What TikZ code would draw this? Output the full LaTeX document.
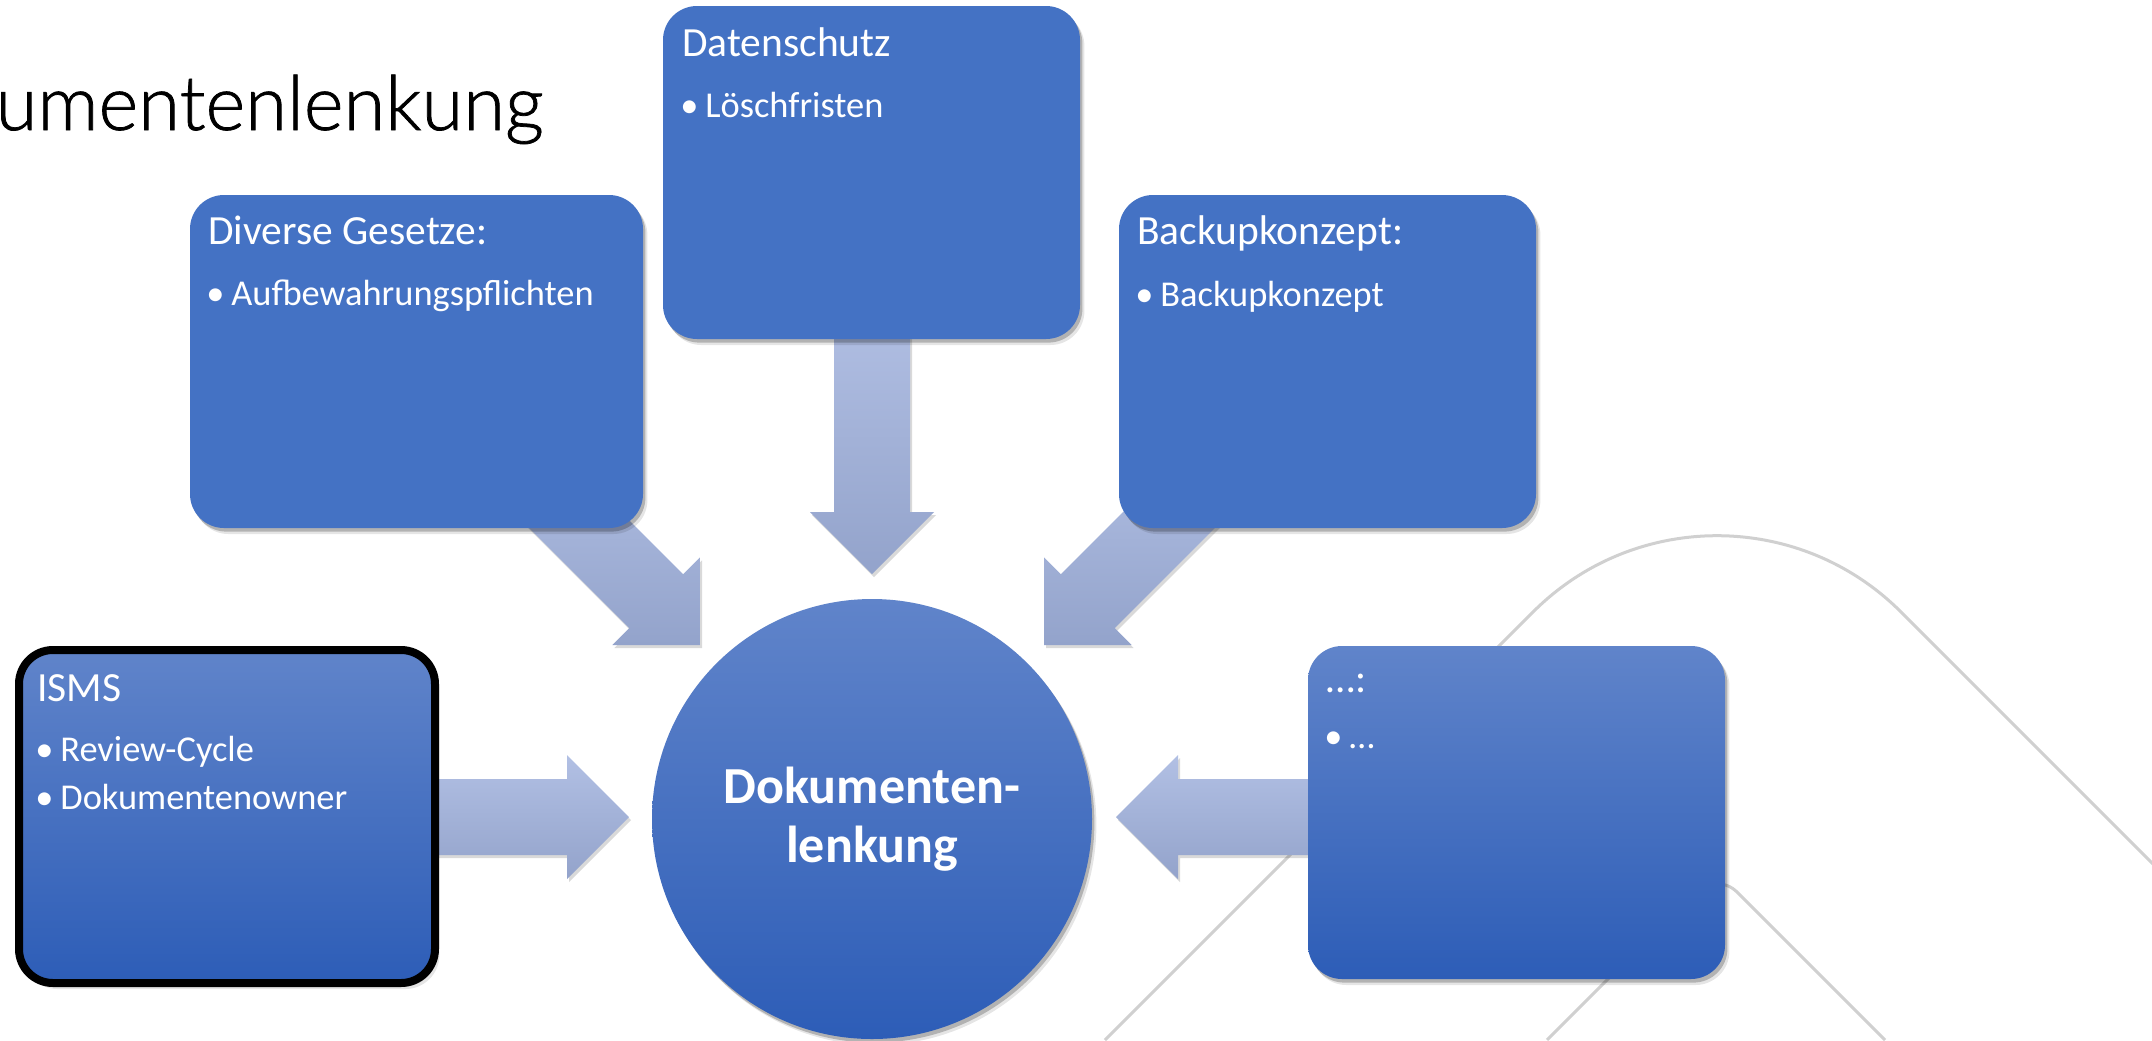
\documentclass[tikz,border=0pt]{standalone}
\usepackage{fontspec}
\setmainfont{Carlito}
\newfontfamily\titlefont{Lato Light}[FakeBold=1]
\usetikzlibrary{shadows}
\definecolor{boxblue}{HTML}{4472C4}
\definecolor{gradtop}{HTML}{6084CA}
\definecolor{gradbot}{HTML}{2D5DB7}
\definecolor{arrtop}{HTML}{B2C0E4}
\definecolor{arrbot}{HTML}{93A3CB}
\definecolor{decogray}{HTML}{D0D0D0}
\newcommand{\bulletmark}{\makebox[12.5pt][l]{•}}
\tikzset{
  softshadow/.style={drop shadow={shadow xshift=1.2pt,shadow yshift=-1.8pt,opacity=0.22,fill=black},
                     drop shadow={shadow xshift=2.2pt,shadow yshift=-3pt,opacity=0.10,fill=black}},
  flatbox/.style={rectangle, rounded corners=17pt, fill=boxblue, softshadow, inner sep=0pt},
  gradbox/.style={rectangle, rounded corners=17pt, top color=gradtop, bottom color=gradbot, softshadow, inner sep=0pt},
  hub/.style={circle, top color=gradtop, bottom color=gradbot, softshadow, inner sep=0pt,
              minimum size=220pt, text=white, font=\bfseries\fontsize{26}{29.5}\selectfont, align=center},
  bigarrow/.style={top color=arrtop, bottom color=arrbot, draw=none,
              drop shadow={shadow xshift=1pt,shadow yshift=-1.5pt,opacity=0.15,fill=black}},
  decoline/.style={draw=decogray, line width=1.5pt},
  boxhead/.style={inner sep=0pt, anchor=base west, text=white, font=\fontsize{20.75}{24}\selectfont},
  boxbullet/.style={inner sep=0pt, anchor=base west, text=white, font=\fontsize{18.2}{22}\selectfont},
}
\begin{document}
\begin{tikzpicture}[x=0.5pt,y=-0.5pt]
\useasboundingbox[fill=white] (0,0) rectangle (2152,1040);

% background decoration
\draw[decoline, rounded corners=130pt] (1105,1040) -- (1717,428) -- (2329,1040);
\draw[decoline, rounded corners=15pt] (1547,1040) -- (1716,871) -- (1885,1040);

% title
\node[inner sep=0pt, anchor=base east, font=\titlefont\fontsize{38}{44}\selectfont] (title) at (544,130) {umentenlenkung};

% block arrows
\path[bigarrow] (400,779) -- (567,779) -- (567,755) -- (629,817) -- (567,879) -- (567,855) -- (400,855) -- cycle;
\path[bigarrow] (1345,779) -- (1178,779) -- (1178,755) -- (1116,817) -- (1178,879) -- (1178,855) -- (1345,855) -- cycle;
\path[bigarrow] (834,300) -- (834,512) -- (810,512) -- (872,574) -- (934,512) -- (910,512) -- (910,300) -- cycle;
\path[bigarrow] (487.9,486.7) -- (629.3,628.1) -- (612.4,645) -- (700,645) -- (700,557.4) -- (683.1,574.3) -- (541.7,432.9) -- cycle;
\path[bigarrow] (1256.1,486.7) -- (1114.7,628.1) -- (1131.6,645) -- (1044,645) -- (1044,557.4) -- (1060.9,574.3) -- (1202.3,432.9) -- cycle;

% boxes
\node[flatbox, minimum width=208.5pt, minimum height=166.5pt] (ds) at (871.5,172.5) {};
\node[flatbox, minimum width=226.5pt, minimum height=166.5pt] (dg) at (416.5,361.5) {};
\node[flatbox, minimum width=208.5pt, minimum height=166.5pt] (bk) at (1327.5,361.5) {};
\node[gradbox, draw=black, line width=4pt, minimum width=208pt, minimum height=166.5pt] (isms) at (227,816.5) {};
\node[gradbox, minimum width=208.5pt, minimum height=166.5pt] (etc) at (1516.5,812.5) {};
\node[hub] (hub) at (872,819) {Dokumenten-\\lenkung};

% texts
\node[boxhead] (dsh) at (682,56) {Datenschutz};
\node[boxbullet] (dsb) at (680,117) {\bulletmark Löschfristen};
\node[boxhead] (dgh) at (208,244) {Diverse Gesetze:};
\node[boxbullet] (dgb) at (206,305) {\bulletmark Aufbewahrungspflichten};
\node[boxhead] (bkh) at (1137,244) {Backupkonzept:};
\node[boxbullet] (bkb) at (1135,306) {\bulletmark Backupkonzept};
\node[boxhead] (ismsh) at (37,701) {ISMS};
\node[boxbullet] (ismsb1) at (35,761) {\bulletmark Review-Cycle};
\node[boxbullet] (ismsb2) at (35,809) {\bulletmark Dokumentenowner};
\node[boxhead] (etch) at (1326,692) {…:};
\node[boxbullet] (etcb) at (1324,748) {\bulletmark …};
\end{tikzpicture}
\end{document}
